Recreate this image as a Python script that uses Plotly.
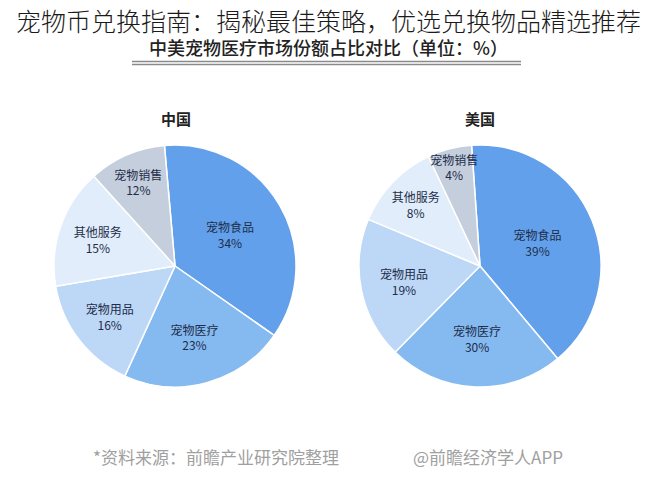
import plotly.graph_objects as go

categories = ["宠物食品", "宠物医疗", "宠物用品", "其他服务", "宠物销售"]
# labelled shares (%)
china_labels = [34, 23, 16, 15, 12]
us_labels = [39, 30, 19, 8, 4]
# slice sizes as drawn in the picture (%)
china_drawn = [36.1, 22.1, 15.5, 16.0, 10.3]
us_drawn = [40.0, 23.5, 18.9, 11.7, 5.9]

colors = ["#62a0eb", "#85baf1", "#bdd7f6", "#e1edfa", "#c4cedc"]
FONT = "Noto Sans CJK SC"

def texts(vals):
    return [f"{c}<br>{v}%" for c, v in zip(categories, vals)]

fig = go.Figure()
for drawn, lab, dom_x, rot in [
    (china_drawn, china_labels, [54 / 656, 296 / 656], -5),
    (us_drawn, us_labels, [359 / 656, 601 / 656], -4),
]:
    fig.add_trace(go.Pie(
        labels=categories, values=drawn, text=texts(lab),
        textinfo="text", textposition="inside", insidetextorientation="horizontal",
        sort=False, direction="clockwise", rotation=rot,
        marker=dict(colors=colors, line=dict(color="#ffffff", width=1.5)),
        textfont=dict(family=FONT, size=12, color="#1f2d4a"),
        domain=dict(x=dom_x, y=[1 - 387 / 500, 1 - 145 / 500]),
        showlegend=False, hoverinfo="label+text",
    ))

fig.update_layout(
    width=656, height=500, margin=dict(l=0, r=0, t=0, b=0),
    paper_bgcolor="#ffffff", plot_bgcolor="#ffffff",
    uniformtext=dict(minsize=12, mode="show"),
    font=dict(family=FONT),
)

ann = [
    dict(text="中美宠物医疗市场份额占比对比（单位：%）", x=328 / 656, y=1 - 47 / 500,
         font=dict(size=18, color="#222222", weight=500)),
    dict(text="宠物币兑换指南：揭秘最佳策略，优选兑换物品精选推荐", x=0.5, y=1 - 20 / 500,
         font=dict(size=25, color="#1a1a1a", weight=300)),
    dict(text="<b>中国</b>", x=176 / 656, y=1 - 118 / 500, font=dict(size=15, color="#222222")),
    dict(text="<b>美国</b>", x=480 / 656, y=1 - 118 / 500, font=dict(size=15, color="#222222")),
    dict(text="*资料来源：前瞻产业研究院整理", x=216 / 656, y=1 - 456 / 500,
         font=dict(size=17, color="#a0a0a0")),
    dict(text="@前瞻经济学人APP", x=488 / 656, y=1 - 456 / 500,
         font=dict(size=17, color="#a0a0a0")),
]
for a in ann:
    a.update(xref="paper", yref="paper", showarrow=False, xanchor="center", yanchor="middle")
fig.update_layout(annotations=ann)

fig.update_layout(shapes=[
    dict(type="line", xref="paper", yref="paper", x0=132 / 656, x1=521 / 656,
         y0=1 - 61.5 / 500, y1=1 - 61.5 / 500, line=dict(color="#8a8a8a", width=1.5)),
    dict(type="line", xref="paper", yref="paper", x0=132 / 656, x1=521 / 656,
         y0=1 - 64.5 / 500, y1=1 - 64.5 / 500, line=dict(color="#8a8a8a", width=1.5)),
])

fig.write_html("out.html")
